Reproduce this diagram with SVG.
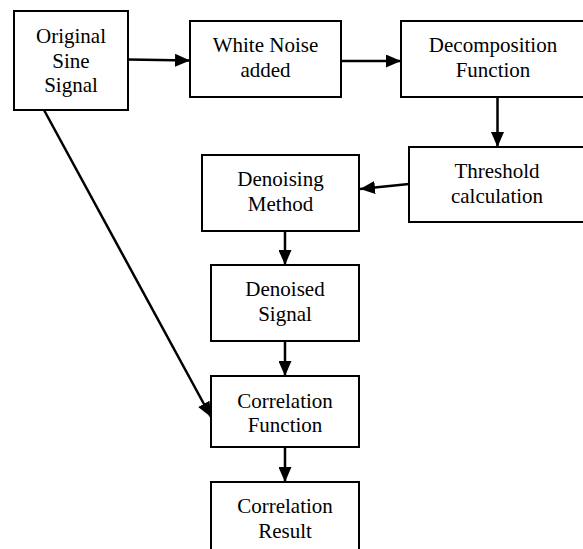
<svg xmlns="http://www.w3.org/2000/svg" width="583" height="549" viewBox="0 0 583 549">
  <style>
    .box { fill: #ffffff; stroke: #000000; stroke-width: 2; }
    .label { font-family: "Liberation Serif", "Times New Roman", serif; font-size: 21px; fill: #000000; text-anchor: middle; }
    .edge { stroke: #000000; stroke-width: 2.5; fill: none; marker-end: url(#arrow); }
  </style>
  <defs>
    <marker id="arrow" markerUnits="userSpaceOnUse" markerWidth="15" markerHeight="13" refX="15" refY="6.5" orient="auto">
      <path d="M0,0 L15,6.5 L0,13 Z" fill="#000000"/>
    </marker>
  </defs>
  <rect width="583" height="549" fill="#ffffff"/>

  <g id="connectors">
    <line class="edge" x1="128" y1="59.5" x2="190" y2="60.5"/>
    <line class="edge" x1="341" y1="61" x2="401" y2="61"/>
    <line class="edge" x1="497.5" y1="97" x2="497.5" y2="147"/>
    <line class="edge" x1="409" y1="184" x2="360" y2="189"/>
    <line class="edge" x1="285" y1="231" x2="285" y2="265"/>
    <line class="edge" x1="285" y1="341" x2="285" y2="376"/>
    <line class="edge" x1="285" y1="447" x2="285" y2="482"/>
    <line class="edge" x1="44" y1="110" x2="211" y2="417"/>
  </g>

  <g id="original-sine-signal">
    <rect class="box" x="14" y="11" width="114" height="99"/>
    <text class="label" x="71" y="43">Original</text>
    <text class="label" x="71" y="68">Sine</text>
    <text class="label" x="71" y="92">Signal</text>
  </g>

  <g id="white-noise-added">
    <rect class="box" x="190" y="21" width="151" height="76"/>
    <text class="label" x="265.5" y="52">White Noise</text>
    <text class="label" x="265.5" y="77">added</text>
  </g>

  <g id="decomposition-function">
    <rect class="box" x="401" y="21" width="190" height="76"/>
    <text class="label" x="493" y="52">Decomposition</text>
    <text class="label" x="493" y="77">Function</text>
  </g>

  <g id="threshold-calculation">
    <rect class="box" x="409" y="147" width="190" height="75"/>
    <text class="label" x="497" y="178">Threshold</text>
    <text class="label" x="497" y="203">calculation</text>
  </g>

  <g id="denoising-method">
    <rect class="box" x="202" y="155" width="157" height="76"/>
    <text class="label" x="280.5" y="186">Denoising</text>
    <text class="label" x="280.5" y="211">Method</text>
  </g>

  <g id="denoised-signal">
    <rect class="box" x="211" y="265" width="148" height="76"/>
    <text class="label" x="285" y="296">Denoised</text>
    <text class="label" x="285" y="321">Signal</text>
  </g>

  <g id="correlation-function">
    <rect class="box" x="211" y="376" width="148" height="71"/>
    <text class="label" x="285" y="408">Correlation</text>
    <text class="label" x="285" y="432">Function</text>
  </g>

  <g id="correlation-result">
    <rect class="box" x="211" y="482" width="148" height="80"/>
    <text class="label" x="285" y="513">Correlation</text>
    <text class="label" x="285" y="538">Result</text>
  </g>
</svg>
